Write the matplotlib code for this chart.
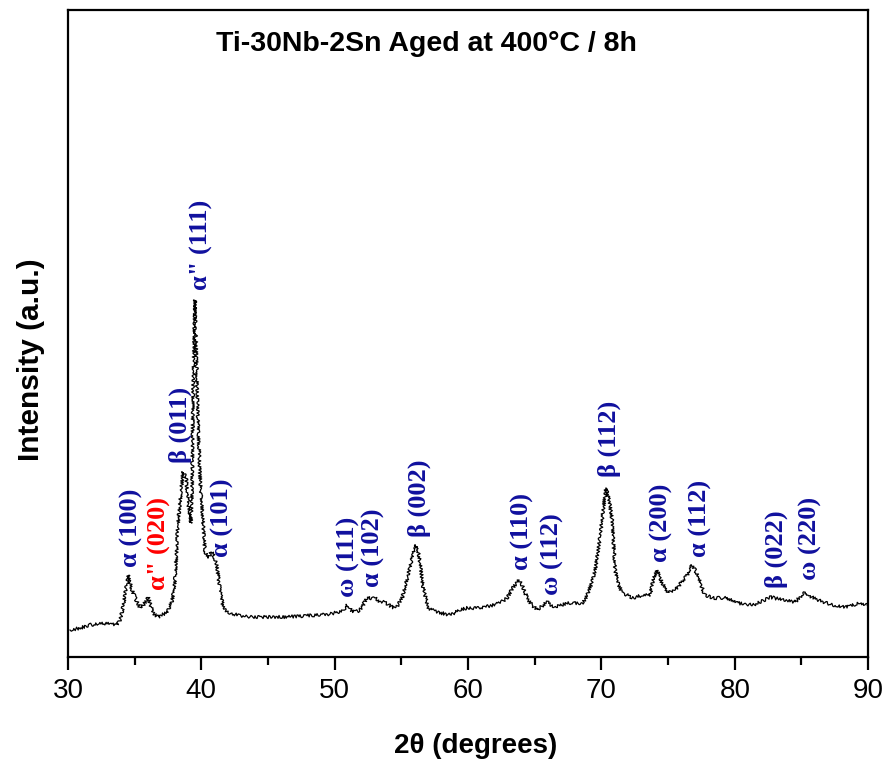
# XRD pattern of Ti-30Nb-2Sn aged at 400 C for 8 h

import matplotlib
matplotlib.use("Agg")
import matplotlib.pyplot as plt
from matplotlib.ticker import MultipleLocator, NullLocator

# Diffraction angle 2-theta (degrees)
two_theta = [30.15, 30.90, 31.65, 32.40, 33.15, 33.68, 33.90, 34.13, 34.50, 34.80,
             35.10, 35.40, 35.70, 36.00, 36.38, 36.75, 37.13, 37.43, 37.80, 38.03,
             38.25, 38.48, 38.63, 38.85, 39.00, 39.23, 39.30, 39.38, 39.53, 39.68,
             39.90, 40.13, 40.28, 40.58, 40.73, 40.88, 41.18, 41.40, 41.63, 41.93,
             42.68, 43.65, 44.40, 46.13, 47.40, 48.68, 49.65, 50.25, 50.70, 50.93,
             51.15, 51.38, 51.75, 52.05, 52.43, 52.73, 53.03, 53.33, 53.63, 54.00,
             54.38, 54.75, 55.05, 55.28, 55.65, 55.88, 56.10, 56.25, 56.40, 56.63,
             57.00, 57.68, 58.65, 59.40, 59.93, 60.90, 61.88, 62.40, 62.93, 63.38,
             63.83, 64.05, 64.28, 64.58, 64.80, 65.18, 65.55, 65.93, 66.23, 66.53,
             67.43, 68.63, 69.00, 69.30, 69.53, 69.90, 70.13, 70.35, 70.58, 70.80,
             71.03, 71.25, 71.55, 72.30, 73.13, 73.65, 73.88, 74.18, 74.40, 74.55,
             75.00, 75.15, 75.68, 76.13, 76.50, 76.80, 77.03, 77.25, 77.55, 77.78,
             78.38, 79.43, 80.18, 81.38, 82.05, 82.65, 83.63, 84.53, 84.90, 85.28,
             85.65, 86.18, 87.38, 88.43, 89.40, 89.93]

# Intensity (arbitrary units)
intensity = [27, 29, 32, 34, 33, 32, 37, 50, 82, 67,
             57, 49, 53, 60, 44, 40, 43, 44, 56, 78,
             134, 167, 185, 180, 154, 134, 167, 267, 357, 267,
             180, 134, 104, 100, 105, 104, 90, 67, 50, 45,
             42, 40, 40, 40, 41, 42, 43, 45, 48, 52,
             48, 45, 46, 50, 60, 58, 59, 56, 55, 53,
             49, 52, 59, 70, 90, 104, 112, 106, 94, 70,
             49, 45, 42, 47, 49, 49, 52, 54, 59, 70,
             77, 72, 64, 56, 52, 47, 51, 55, 52, 50,
             54, 54, 64, 75, 87, 120, 147, 169, 157, 137,
             87, 73, 65, 59, 62, 62, 77, 87, 79, 74,
             64, 65, 69, 77, 83, 92, 87, 80, 69, 62,
             59, 59, 54, 52, 56, 60, 57, 55, 60, 65,
             61, 57, 52, 50, 54, 52]

# Peak labels: text, 2-theta position, height of label base
peak_names = ['α (100)', 'α" (020)', 'β (011)', 'α" (111)', 'α (101)',
              'ω (111)', 'α (102)', 'β (002)', 'α (110)', 'ω (112)',
              'β (112)', 'α (200)', 'α (112)', 'β (022)', 'ω (220)']
peak_pos = [34.73, 36.83, 38.40, 39.98, 41.55,
            51.00, 52.88, 56.33, 64.05, 66.30,
            70.58, 74.48, 77.40, 83.10, 85.65]
peak_base = [90, 67, 194, 367, 100,
             60, 70, 120, 87, 62,
             180, 95, 100, 69, 77]
peak_colors = ['#10109e', '#ff0000'] + ['#10109e'] * 13

plt.rcParams['font.family'] = ['Liberation Sans', 'DejaVu Sans']

fig = plt.figure(figsize=(8.88, 7.64), dpi=100)
ax = fig.add_axes([0.0766, 0.140, 0.901, 0.847])

# Draw the pattern
line, = ax.plot(two_theta, intensity, color='black', linewidth=0.9)
line.set_sketch_params(scale=1.6, length=2.0, randomness=3.0)

# Peak labels
for name, x, y, c in zip(peak_names, peak_pos, peak_base, peak_colors):
    ax.text(x, y, name, rotation=90, ha='center', va='bottom', color=c,
            fontsize=19, fontweight='bold',
            family=['Liberation Serif', 'DejaVu Serif'])

# Title inside the plot
ax.text(0.4475, 0.947, 'Ti-30Nb-2Sn Aged at 400°C / 8h', transform=ax.transAxes,
        ha='center', va='center', fontsize=20.5, fontweight='bold')

ax.set_xlim(30, 90)
ax.set_ylim(0, 647)
ax.xaxis.set_major_locator(MultipleLocator(10))
ax.xaxis.set_minor_locator(MultipleLocator(5))
ax.yaxis.set_major_locator(NullLocator())
ax.tick_params(axis='x', which='major', direction='out', length=9, width=1.6,
               labelsize=20, pad=6)
ax.tick_params(axis='x', which='minor', direction='out', length=6, width=1.6)
for s in ax.spines.values():
    s.set_linewidth(1.6)

ax.set_xlabel('2θ (degrees)', fontsize=20, fontweight='bold')
ax.set_ylabel('Intensity (a.u.)', fontsize=21.5, fontweight='bold')
ax.xaxis.set_label_coords(0.51, -0.118)
ax.yaxis.set_label_coords(-0.029, 0.46)

fig.savefig('out.png', dpi=100)
